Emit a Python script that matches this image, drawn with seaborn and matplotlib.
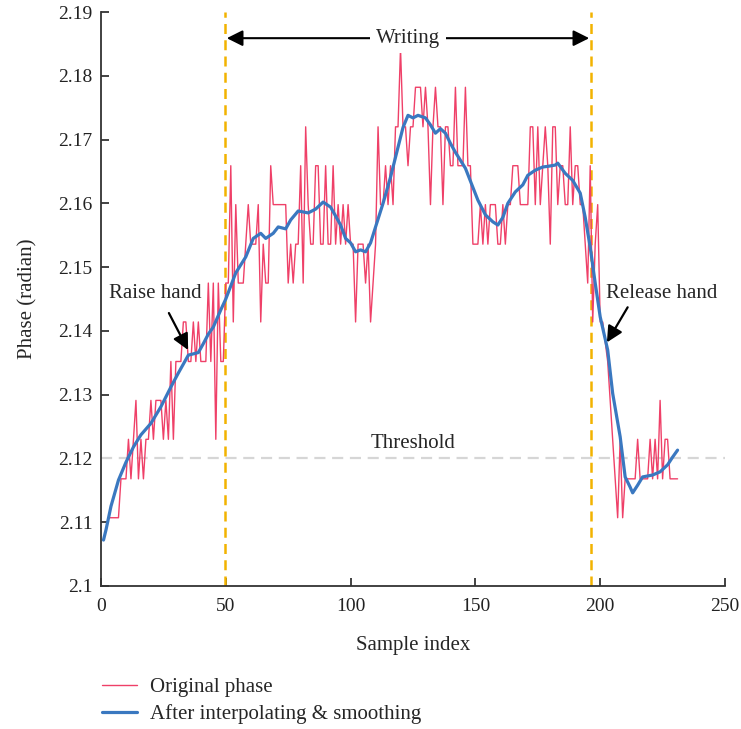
import matplotlib
matplotlib.use("Agg")
import matplotlib.pyplot as plt
import numpy as np
import pandas as pd
import seaborn as sns
from matplotlib.ticker import FuncFormatter

# raw phase, samples 3..231 (one value per sample)
raw_samples = list(range(3, 232))
raw_phase = [
    2.1107, 2.1107, 2.1107, 2.1107, 2.1107, 2.1168, 2.1168, 2.1168, 2.1230, 2.1168,
    2.1230, 2.1291, 2.1168, 2.1230, 2.1168, 2.1230, 2.1230, 2.1291, 2.1230, 2.1291,
    2.1291, 2.1291, 2.1230, 2.1291, 2.1230, 2.1352, 2.1230, 2.1352, 2.1352, 2.1352,
    2.1414, 2.1414, 2.1352, 2.1352, 2.1414, 2.1352, 2.1414, 2.1352, 2.1352, 2.1352,
    2.1475, 2.1352, 2.1475, 2.1230, 2.1475, 2.1352, 2.1352, 2.1475, 2.1475, 2.1659,
    2.1414, 2.1598, 2.1475, 2.1475, 2.1475, 2.1536, 2.1598, 2.1536, 2.1536, 2.1536,
    2.1598, 2.1414, 2.1536, 2.1475, 2.1475, 2.1659, 2.1598, 2.1598, 2.1598, 2.1598,
    2.1598, 2.1598, 2.1475, 2.1536, 2.1475, 2.1536, 2.1536, 2.1659, 2.1475, 2.1720,
    2.1598, 2.1536, 2.1536, 2.1659, 2.1659, 2.1536, 2.1536, 2.1659, 2.1536, 2.1536,
    2.1659, 2.1536, 2.1598, 2.1536, 2.1598, 2.1536, 2.1598, 2.1536, 2.1536, 2.1414,
    2.1536, 2.1536, 2.1536, 2.1475, 2.1536, 2.1414, 2.1475, 2.1536, 2.1720, 2.1598,
    2.1598, 2.1659, 2.1598, 2.1659, 2.1598, 2.1720, 2.1720, 2.1843, 2.1720, 2.1720,
    2.1659, 2.1720, 2.1720, 2.1782, 2.1782, 2.1782, 2.1720, 2.1782, 2.1720, 2.1598,
    2.1720, 2.1782, 2.1720, 2.1720, 2.1598, 2.1720, 2.1720, 2.1659, 2.1659, 2.1782,
    2.1659, 2.1659, 2.1659, 2.1782, 2.1659, 2.1659, 2.1536, 2.1536, 2.1536, 2.1598,
    2.1536, 2.1598, 2.1536, 2.1598, 2.1598, 2.1598, 2.1536, 2.1536, 2.1598, 2.1536,
    2.1598, 2.1598, 2.1659, 2.1659, 2.1659, 2.1598, 2.1598, 2.1598, 2.1598, 2.1720,
    2.1720, 2.1598, 2.1720, 2.1598, 2.1659, 2.1720, 2.1659, 2.1536, 2.1720, 2.1720,
    2.1598, 2.1659, 2.1659, 2.1598, 2.1598, 2.1720, 2.1598, 2.1659, 2.1659, 2.1598,
    2.1598, 2.1536, 2.1475, 2.1659, 2.1414, 2.1536, 2.1598, 2.1414, 2.1414, 2.1383,
    2.1352, 2.1291, 2.1230, 2.1168, 2.1107, 2.1230, 2.1107, 2.1168, 2.1168, 2.1168,
    2.1168, 2.1168, 2.1230, 2.1168, 2.1168, 2.1168, 2.1168, 2.1230, 2.1168, 2.1230,
    2.1168, 2.1291, 2.1168, 2.1230, 2.1230, 2.1168, 2.1168, 2.1168, 2.1168,
]

# smoothed curve
smooth_samples = [1, 2, 4, 7, 10, 13, 16, 20, 24, 28, 31, 34, 35, 37, 39, 41, 43, 45, 48,
                  50, 54, 58, 61, 64, 66, 69, 71, 74, 76, 79, 83, 86, 89, 92, 94, 96, 98,
                  100, 102, 104, 106, 108, 110, 113, 116, 119, 121, 123, 125, 127, 130,
                  132, 134, 136, 138, 140, 142, 146, 149, 151, 154, 157, 159, 161, 163,
                  166, 169, 171, 174, 177, 179, 182, 183, 186, 189, 192, 194, 196, 198,
                  200, 203, 205, 208, 210, 212, 213, 215, 217, 221, 224, 227, 229, 231]
smooth_phase = [2.1072, 2.1088, 2.1125, 2.1166, 2.1194, 2.1218, 2.1237, 2.1255, 2.1281,
                2.1312, 2.1334, 2.1355, 2.1362, 2.1364, 2.1366, 2.1380, 2.1395, 2.1406,
                2.1433, 2.1450, 2.1491, 2.1516, 2.1545, 2.1553, 2.1545, 2.1553, 2.1563,
                2.1560, 2.1574, 2.1588, 2.1585, 2.1591, 2.1602, 2.1594, 2.1580, 2.1566,
                2.1545, 2.1538, 2.1524, 2.1527, 2.1524, 2.1538, 2.1563, 2.1600, 2.1641,
                2.1688, 2.1719, 2.1738, 2.1734, 2.1738, 2.1734, 2.1723, 2.1710, 2.1717,
                2.1710, 2.1694, 2.1680, 2.1655, 2.1625, 2.1605, 2.1582, 2.1571, 2.1566,
                2.1578, 2.1600, 2.1618, 2.1629, 2.1644, 2.1652, 2.1657, 2.1658, 2.1660,
                2.1663, 2.1647, 2.1636, 2.1616, 2.1578, 2.1531, 2.1475, 2.1422, 2.1370,
                2.1302, 2.1234, 2.1171, 2.1155, 2.1146, 2.1158, 2.1171, 2.1174, 2.1179,
                2.1190, 2.1202, 2.1213]

write_start, write_end = 49.6, 196.2
threshold = 2.12

sns.set_style("ticks")
plt.rcParams['font.family'] = ['Liberation Serif', 'DejaVu Serif']
plt.rcParams['font.size'] = 15

fig = plt.figure(figsize=(7.41, 7.29), dpi=100)
ax = fig.add_axes([0.1363, 0.1962, 0.8421, 0.7873])

df_raw = pd.DataFrame({'sample': raw_samples, 'phase': raw_phase})
df_smooth = pd.DataFrame({'sample': smooth_samples, 'phase': smooth_phase})

ax.axhline(threshold, color='#d6d6d6', lw=1.6, ls=(0, (5, 3)), zorder=1)
ax.axvline(write_start, color='#f2b300', lw=1.8, ls=(0, (4, 2.5)), zorder=1)
ax.axvline(write_end, color='#f2b300', lw=1.8, ls=(0, (4, 2.5)), zorder=1)

sns.lineplot(data=df_raw, x='sample', y='phase', ax=ax, color='#ef4068', lw=1.0,
             label='Original phase', sort=False, zorder=2)
sns.lineplot(data=df_smooth, x='sample', y='phase', ax=ax, color='#3a78c0', lw=2.3,
             label='After interpolating & smoothing', sort=False, zorder=3)

ax.set_xlim(0, 250)
ax.set_ylim(2.1, 2.19)
ax.set_xticks([0, 50, 100, 150, 200, 250])
ax.set_yticks(np.arange(2.10, 2.191, 0.01))
ax.yaxis.set_major_formatter(FuncFormatter(lambda v, p: f"{v:g}"))
ax.tick_params(direction='in', length=6, width=1.2, labelsize=14, colors='#222222')
ax.tick_params(axis='y', pad=6)
ax.tick_params(axis='x', pad=9)
for s in ['top', 'right']:
    ax.spines[s].set_visible(False)
for s in ['left', 'bottom']:
    ax.spines[s].set_linewidth(1.3)
    ax.spines[s].set_color('#333333')

ax.set_xlabel('Sample index', fontsize=15, labelpad=15)
ax.set_ylabel('Phase (radian)', fontsize=15, labelpad=15)

# annotations
ax.annotate('', xy=(write_end - 0.6, 2.1859), xytext=(write_start + 0.8, 2.1859),
            arrowprops=dict(arrowstyle='<|-|>', color='black', lw=1.5,
                            mutation_scale=24, shrinkA=0, shrinkB=0))
ax.text(123, 2.1859, 'Writing', ha='center', va='center', fontsize=15,
        bbox=dict(facecolor='white', edgecolor='none', pad=4))
ax.text(21.6, 2.1459, 'Raise hand', ha='center', va='center', fontsize=15)
ax.annotate('', xy=(34.9, 2.1370), xytext=(27.2, 2.1428),
            arrowprops=dict(arrowstyle='-|>', color='black', lw=1.6,
                            mutation_scale=24, shrinkA=0, shrinkB=0))
ax.text(224.8, 2.1459, 'Release hand', ha='center', va='center', fontsize=15)
ax.annotate('', xy=(202.7, 2.1382), xytext=(211.0, 2.1437),
            arrowprops=dict(arrowstyle='-|>', color='black', lw=1.6,
                            mutation_scale=24, shrinkA=0, shrinkB=0))
ax.text(125, 2.1224, 'Threshold', ha='center', va='center', fontsize=15)

ax.legend(loc='upper left', bbox_to_anchor=(-0.012, -0.145), frameon=False,
          fontsize=15, handlelength=1.7, handletextpad=0.6, labelspacing=0.35,
          borderaxespad=0)

fig.savefig('out.png', dpi=100)
